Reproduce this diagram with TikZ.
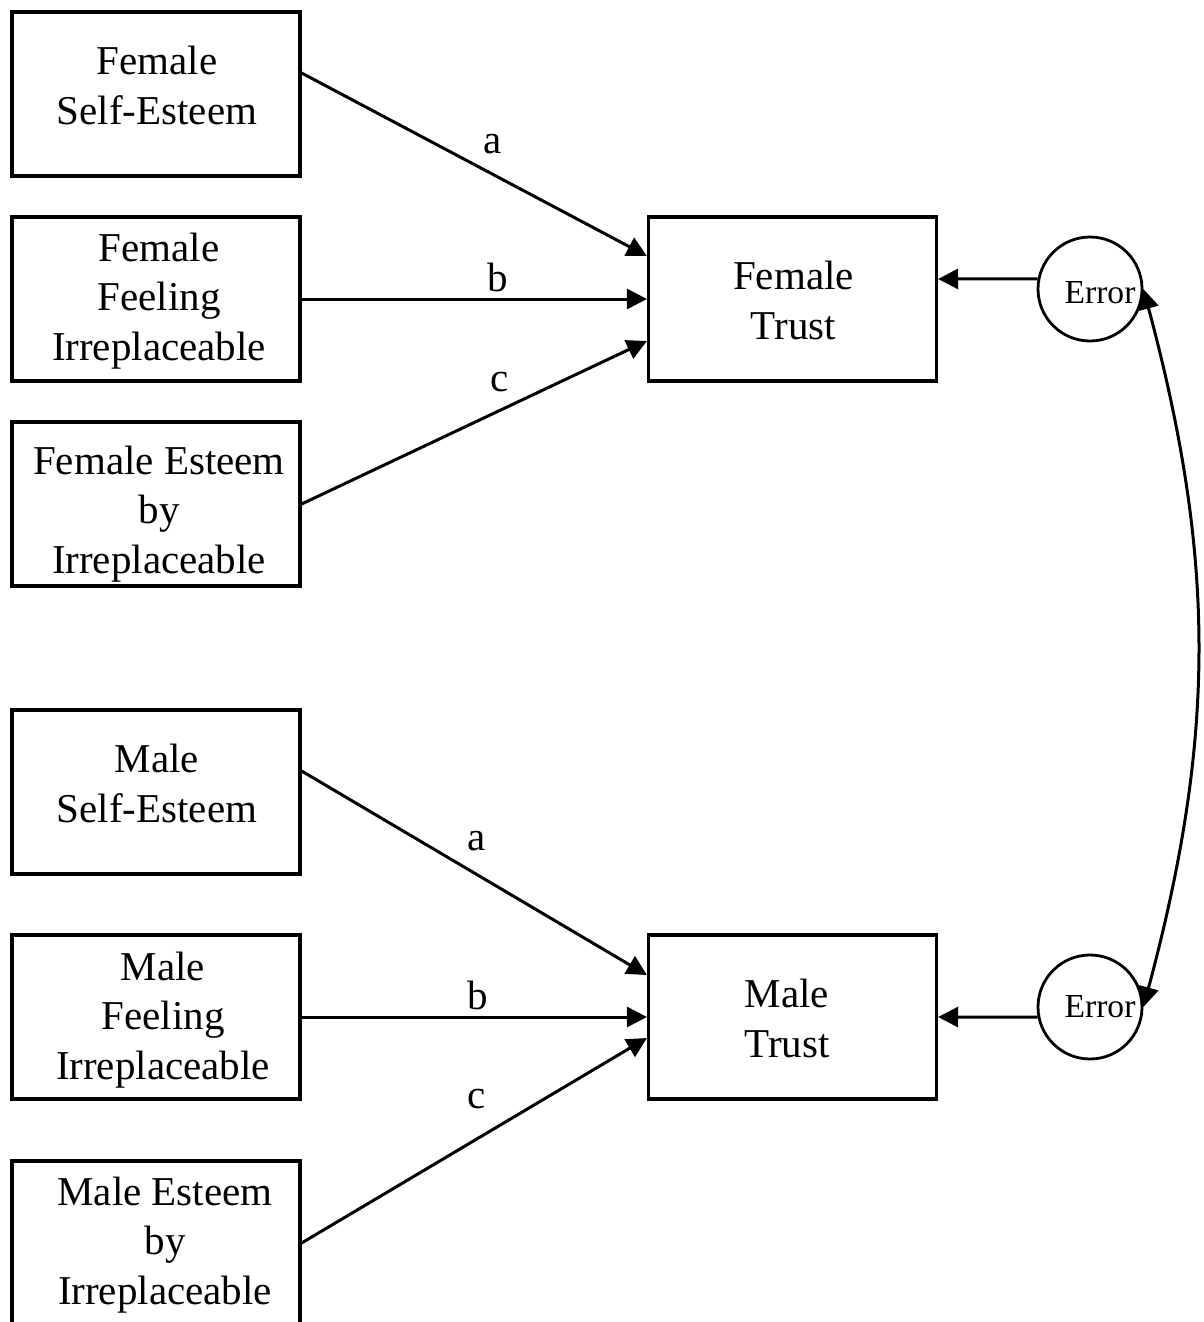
\documentclass[tikz,border=0pt]{standalone}
\usepackage{fontspec}
\setmainfont{Liberation Serif}
\usetikzlibrary{arrows.meta}
\begin{document}
\begin{tikzpicture}[x=0.5pt,y=-0.5pt,
  box/.style={draw,line width=1.6pt,minimum width=144pt,minimum height=82pt,inner sep=0pt},
  txt/.style={inner sep=0pt,align=center,font=\fontsize{20.5pt}{24.6pt}\selectfont},
  err/.style={draw,circle,line width=1.4pt,minimum size=52pt,inner sep=0pt},
  errtxt/.style={inner sep=0pt,font=\fontsize{16.8pt}{19pt}\selectfont},
  conn/.style={line width=1.5pt,-{Triangle[length=10pt,width=10pt]}},
  lab/.style={font=\fontsize{20.5pt}{24pt}\selectfont,inner sep=0pt}]
\useasboundingbox (0,0) rectangle (1204,1322);
% left boxes
\node[box] (b1) at (156,94) {};
\node[box] (b2) at (156,299) {};
\node[box] (b3) at (156,504) {};
\node[box] (b4) at (156,792) {};
\node[box] (b5) at (156,1017) {};
\node[box] (b6) at (156,1243) {};
\node[txt] (t1) at ([xshift=0.5pt,yshift=4.25pt]b1.center) {Female\\Self-Esteem};
\node[txt] (t2) at ([xshift=1.5pt,yshift=-1pt]b2.center) {Female\\Feeling\\Irreplaceable};
\node[txt] (t3) at ([xshift=1.5pt,yshift=-5pt]b3.center) {Female Esteem\\by\\Irreplaceable};
\node[txt] (t4) at ([xshift=0.5pt,yshift=4.25pt]b4.center) {Male\\Self-Esteem};
\node[txt] (t5) at ([xshift=3.5pt,yshift=-1.5pt]b5.center) {Male\\Feeling\\Irreplaceable};
\node[txt] (t6) at ([xshift=4.5pt,yshift=-1pt]b6.center) {Male Esteem\\by\\Irreplaceable};
% outcome boxes
\node[box] (ft) at (792.5,299) {};
\node[box] (mt) at (792.5,1017) {};
\node[txt] (t7) at ([xshift=0.5pt,yshift=-0.75pt]ft.center) {Female\\Trust};
\node[txt] (t8) at ([xshift=-2.75pt,yshift=-0.75pt]mt.center) {Male\\Trust};
% error circles
\node[err] (e1) at (1090,289) {};
\node[err] (e2) at (1090,1007) {};
\node[errtxt] (t9) at ([xshift=5pt,yshift=-1.75pt]e1.center) {Error};
\node[errtxt] (t10) at ([xshift=5pt]e2.center) {Error};
% female paths
\draw[conn] ([yshift=10.5pt]b1.east) -- ([yshift=21.5pt]ft.west);
\draw[conn] (b2.east) -- (ft.west);
\draw[conn] (b3.east) -- ([yshift=-21pt]ft.west);
% male paths
\draw[conn] ([yshift=10.5pt]b4.east) -- ([yshift=21pt]mt.west);
\draw[conn] (b5.east) -- (mt.west);
\draw[conn] (b6.east) -- ([yshift=-10.5pt]mt.west);
% error paths
\draw[conn] (e1.169) -- ([yshift=10pt]ft.east);
\draw[conn] (e2.191) -- (mt.east);
\draw[line width=1.5pt,{Triangle[length=10pt,width=10pt]}-{Triangle[length=10pt,width=10pt]}]
  (e1.east) to[bend left=15] (e2.east);
% labels
\node[lab] (la1) at (493,144) {a};
\node[lab] (lb1) at (498,277) {b};
\node[lab] (lc1) at (500,382) {c};
\node[lab] (la2) at (477,841) {a};
\node[lab] (lb2) at (478,995) {b};
\node[lab] (lc2) at (477,1099) {c};
\end{tikzpicture}
\end{document}
